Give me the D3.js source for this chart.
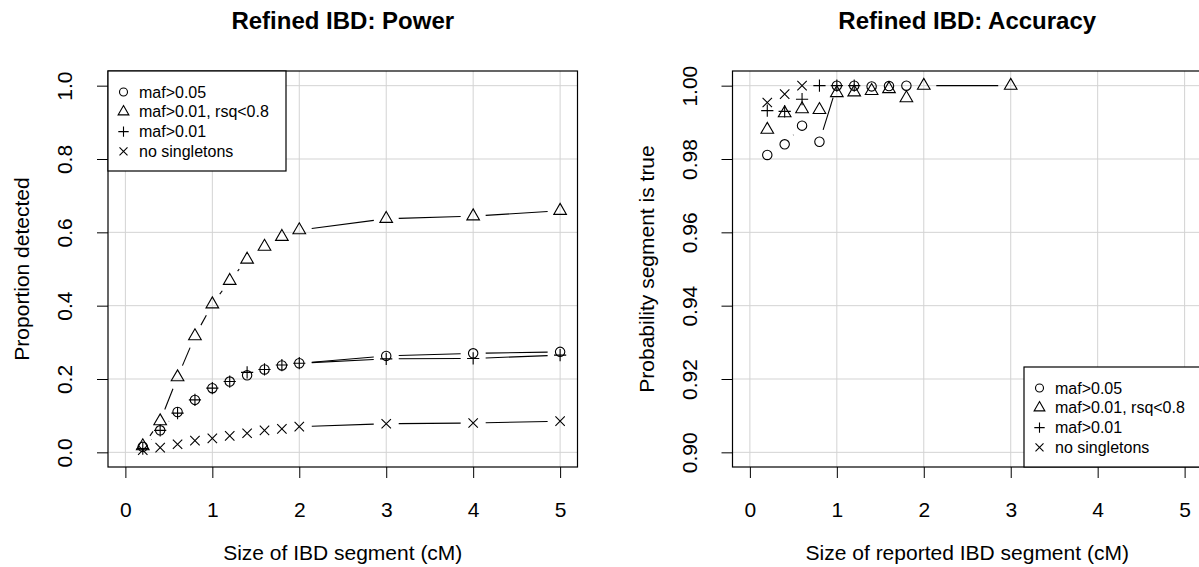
<!DOCTYPE html>
<html>
<head>
<meta charset="utf-8">
<script src="https://cdn.jsdelivr.net/npm/d3@7"></script>
<style>
  html, body { margin: 0; padding: 0; background: #fff; }
  svg { display: block; font-family: "Liberation Sans", Arial, Helvetica, sans-serif; }
</style>
</head>
<body>
<svg id="chart" width="1199" height="567"></svg>
<script>
// ---------------- data ----------------
const seriesNames = ["maf>0.05", "maf>0.01, rsq<0.8", "maf>0.01", "no singletons"];
const seriesShapes = ["circle", "triangle", "plus", "cross"];
const xTicks = [0, 1, 2, 3, 4, 5];

// Panel 1: Refined IBD: Power
const powerSizes = [0.2, 0.4, 0.6, 0.8, 1.0, 1.2, 1.4, 1.6, 1.8, 2.0, 3, 4, 5];
const powerMaf05 = [0.015, 0.060, 0.110, 0.143, 0.175, 0.193, 0.210, 0.226, 0.237, 0.243, 0.263, 0.270, 0.274];
const powerRsq = [0.017, 0.085, 0.205, 0.317, 0.404, 0.468, 0.526, 0.561, 0.588, 0.606, 0.637, 0.644, 0.659];
const powerMaf01 = [0.010, 0.060, 0.107, 0.143, 0.175, 0.193, 0.218, 0.226, 0.238, 0.243, 0.255, 0.256, 0.265];
const powerNoSingle = [0.006, 0.013, 0.022, 0.032, 0.038, 0.045, 0.052, 0.060, 0.064, 0.070, 0.078, 0.080, 0.085];
const powerYTicks = [0.0, 0.2, 0.4, 0.6, 0.8, 1.0];

// Panel 2: Refined IBD: Accuracy
const accSizes = [0.2, 0.4, 0.6, 0.8, 1.0, 1.2, 1.4, 1.6, 1.8, 2.0, 3];
const accMaf05 = [0.9811, 0.9840, 0.9891, 0.9847, 1.0000, 1.0000, 0.9998, 0.9999, 1.0000, null, null];
const accRsq = [0.9880, 0.9925, 0.9936, 0.9934, 0.9980, 0.9982, 0.9986, 0.9991, 0.9966, 1.0000, 1.0000];
const accMaf01 = [0.9932, 0.9930, 0.9963, 1.0000, 1.0000, 1.0000, null, null, null, null, null];
const accNoSingle = [0.9954, 0.9977, 1.0000, null, null, null, null, null, null, null, null];
const accYTicks = [0.90, 0.92, 0.94, 0.96, 0.98, 1.00];

// ---------------- drawing ----------------
const svg = d3.select("#chart");
const LEG_FONT = 16;
const AXIS_FONT = 21;
const TITLE_FONT = 24;
const GAP = 12.5; // type="b" gap around points

function symbolPath(shape, s) {
  const r = 4.7 * s;
  switch (shape) {
    case "circle":
      return `M${-r},0A${r},${r} 0 1,0 ${r},0A${r},${r} 0 1,0 ${-r},0Z`;
    case "triangle": {
      const R = 1.5551 * r, hw = 0.866 * R, b = 0.5 * R;
      return `M0,${-R}L${hw},${b}L${-hw},${b}Z`;
    }
    case "plus": {
      const a = 1.3 * r;
      return `M${-a},0L${a},0M0,${-a}L0,${a}`;
    }
    case "cross": {
      const a = r;
      return `M${-a},${-a}L${a},${a}M${-a},${a}L${a},${-a}`;
    }
  }
}

function panel(cfg) {
  const { left, right, top, bottom, xDomain, yDomain, yTicks, yFmt, sizes, series,
          title, xLabel, yLabel, legendPos } = cfg;
  const x = d3.scaleLinear().domain(xDomain).range([left, right]);
  const y = d3.scaleLinear().domain(yDomain).range([bottom, top]);
  const g = svg.append("g");

  // grid
  const grid = g.append("g").attr("stroke", "#d3d3d3").attr("stroke-width", 1);
  xTicks.forEach(t => grid.append("line")
    .attr("x1", x(t)).attr("x2", x(t)).attr("y1", top).attr("y2", bottom));
  yTicks.forEach(t => grid.append("line")
    .attr("x1", left).attr("x2", right).attr("y1", y(t)).attr("y2", y(t)));

  // axes
  const xAxis = d3.axisBottom(x).tickValues(xTicks).tickFormat(d3.format("d")).tickSize(11);
  const gx = g.append("g").attr("transform", `translate(0,${bottom})`).call(xAxis);
  gx.select(".domain").remove();
  gx.selectAll("line").attr("stroke", "#000");
  gx.selectAll("text").attr("font-size", AXIS_FONT).attr("fill", "#000")
    .attr("font-family", "Liberation Sans, Arial, sans-serif")
    .attr("y", 43).attr("dy", "0.35em");

  const yAxis = d3.axisLeft(y).tickValues(yTicks).tickFormat(d3.format(yFmt)).tickSize(11);
  const gy = g.append("g").attr("transform", `translate(${left},0)`).call(yAxis);
  gy.select(".domain").remove();
  gy.selectAll("line").attr("stroke", "#000");
  gy.selectAll("text").attr("font-size", AXIS_FONT).attr("fill", "#000")
    .attr("font-family", "Liberation Sans, Arial, sans-serif")
    .attr("x", 0).attr("dy", "0.35em")
    .attr("text-anchor", "middle")
    .attr("transform", `translate(-43,0) rotate(-90)`);

  // series
  const clip = "clip" + Math.round(left);
  g.append("clipPath").attr("id", clip).append("rect")
    .attr("x", left).attr("y", top).attr("width", right - left).attr("height", bottom - top);
  const data = g.append("g").attr("clip-path", `url(#${clip})`);
  series.forEach((vals, si) => {
    const pts = sizes.map((s, i) => vals[i] == null ? null : [x(s), y(vals[i])]);
    // connecting segments with gaps (R type = "b")
    for (let i = 1; i < pts.length; i++) {
      const p = pts[i - 1], q = pts[i];
      if (!p || !q) continue;
      const dx = q[0] - p[0], dy = q[1] - p[1];
      const len = Math.hypot(dx, dy);
      if (len > 2 * GAP) {
        const f = GAP / len;
        data.append("line")
          .attr("x1", p[0] + f * dx).attr("y1", p[1] + f * dy)
          .attr("x2", q[0] - f * dx).attr("y2", q[1] - f * dy)
          .attr("stroke", "#000").attr("stroke-width", 1.1);
      }
    }
    pts.forEach(p => {
      if (!p) return;
      data.append("path").attr("d", symbolPath(seriesShapes[si], 1))
        .attr("transform", `translate(${p[0]},${p[1]})`)
        .attr("fill", "none").attr("stroke", "#000").attr("stroke-width", 1.1);
    });
  });

  // box
  g.append("rect").attr("x", left).attr("y", top)
    .attr("width", right - left).attr("height", bottom - top)
    .attr("fill", "none").attr("stroke", "#000").attr("stroke-width", 1.2);

  // legend
  const lw = 178, lh = 100;
  const lx = legendPos === "topleft" ? left : right - lw;
  const ly = legendPos === "topleft" ? top : bottom - lh;
  const lg = g.append("g");
  lg.append("rect").attr("x", lx).attr("y", ly).attr("width", lw).attr("height", lh)
    .attr("fill", "#fff").attr("stroke", "#000").attr("stroke-width", 1.2);
  seriesNames.forEach((name, i) => {
    const cy = ly + 21 + i * 19.8;
    lg.append("path").attr("d", symbolPath(seriesShapes[i], 0.85))
      .attr("transform", `translate(${lx + 15.5},${cy})`)
      .attr("fill", "none").attr("stroke", "#000").attr("stroke-width", 1.1);
    lg.append("text").attr("x", lx + 31).attr("y", cy).attr("dy", "0.35em")
      .attr("font-size", LEG_FONT).text(name);
  });

  // titles
  g.append("text").attr("x", (left + right) / 2).attr("y", 21).attr("dy", "0.35em")
    .attr("text-anchor", "middle").attr("font-size", TITLE_FONT).attr("font-weight", "bold")
    .text(title);
  g.append("text").attr("x", (left + right) / 2).attr("y", bottom + 86).attr("dy", "0.35em")
    .attr("text-anchor", "middle").attr("font-size", AXIS_FONT).text(xLabel);
  g.append("text").attr("transform", `translate(${left - 86},${(top + bottom) / 2}) rotate(-90)`)
    .attr("text-anchor", "middle").attr("dy", "0.35em")
    .attr("font-size", AXIS_FONT).text(yLabel);
}

panel({
  left: 108, right: 577.5, top: 71, bottom: 467,
  xDomain: [-0.2, 5.2], yDomain: [-0.04, 1.04], yTicks: powerYTicks, yFmt: ".1f",
  sizes: powerSizes, series: [powerMaf05, powerRsq, powerMaf01, powerNoSingle],
  title: "Refined IBD: Power", xLabel: "Size of IBD segment (cM)", yLabel: "Proportion detected",
  legendPos: "topleft"
});
panel({
  left: 732.5, right: 1202, top: 71, bottom: 467,
  xDomain: [-0.2, 5.2], yDomain: [0.896, 1.004], yTicks: accYTicks, yFmt: ".2f",
  sizes: accSizes, series: [accMaf05, accRsq, accMaf01, accNoSingle],
  title: "Refined IBD: Accuracy", xLabel: "Size of reported IBD segment (cM)", yLabel: "Probability segment is true",
  legendPos: "bottomright"
});
</script>
</body>
</html>
